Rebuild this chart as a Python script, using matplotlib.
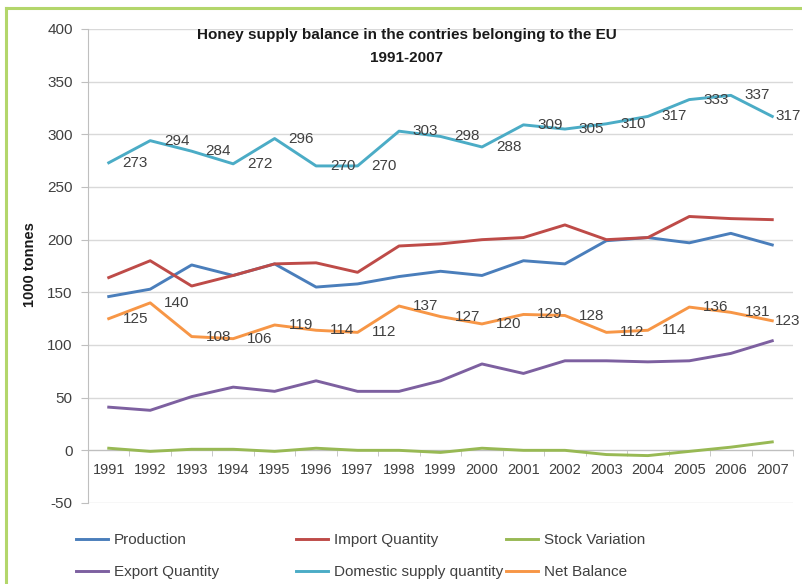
import matplotlib
matplotlib.use("Agg")
import matplotlib.pyplot as plt
from matplotlib.lines import Line2D

years = [str(y) for y in range(1991, 2008)]

production = [146, 153, 176, 166, 177, 155, 158, 165, 170, 166, 180, 177, 199, 202, 197, 206, 195]
import_qty = [164, 180, 156, 166, 177, 178, 169, 194, 196, 200, 202, 214, 200, 202, 222, 220, 219]
stock_var = [2, -1, 1, 1, -1, 2, 0, 0, -2, 2, 0, 0, -4, -5, -1, 3, 8]
export_qty = [41, 38, 51, 60, 56, 66, 56, 56, 66, 82, 73, 85, 85, 84, 85, 92, 104]
domestic = [273, 294, 284, 272, 296, 270, 270, 303, 298, 288, 309, 305, 310, 317, 333, 337, 317]
net_balance = [125, 140, 108, 106, 119, 114, 112, 137, 127, 120, 129, 128, 112, 114, 136, 131, 123]

plt.rcParams['font.family'] = ['Liberation Sans', 'DejaVu Sans']
plt.rcParams['axes.unicode_minus'] = False

fig = plt.figure(figsize=(8.03, 5.84), dpi=100)
ax = fig.add_axes([88/803, 1-503/584, 705/803, 474/584])

x = list(range(len(years)))
series = [
    ("Production", production, "#4a7ebb"),
    ("Import Quantity", import_qty, "#be4b48"),
    ("Stock Variation", stock_var, "#98b954"),
    ("Export Quantity", export_qty, "#7d60a0"),
    ("Domestic supply quantity", domestic, "#4bacc6"),
    ("Net Balance", net_balance, "#f79646"),
]
handles = {}
for name, vals, col in series:
    h, = ax.plot(x, vals, color=col, lw=2.1, solid_joinstyle='round', zorder=3)
    handles[name] = h

# data labels (right of point)
for vals in (domestic, net_balance):
    for xi, v in zip(x, vals):
        off = 10 if xi < len(x) - 1 else 2
        ax.annotate(str(v), (xi, v), xytext=(off, 0), textcoords='offset points',
                    ha='left', va='center', fontsize=11, color='#404040', zorder=4,
                    annotation_clip=False)

ax.set_xlim(-0.5, len(years) - 0.5)
ax.set_ylim(-50, 400)
ax.set_yticks(range(-50, 401, 50))
ax.yaxis.grid(True, color='#d9d9d9', lw=1)
ax.set_axisbelow(True)

for s in ('top', 'right'):
    ax.spines[s].set_visible(False)
ax.spines['left'].set_color('#bfbfbf')
ax.spines['bottom'].set_position(('data', 0))
ax.spines['bottom'].set_color('#bfbfbf')

ax.set_xticks(x)
ax.set_xticklabels(years)
ax.set_xticks([i - 0.5 for i in range(len(years) + 1)], minor=True)
ax.tick_params(axis='x', which='major', length=0, pad=9, labelsize=10.5, labelcolor='#404040')
ax.tick_params(axis='x', which='minor', length=4, color='#bfbfbf')
ax.tick_params(axis='y', length=5, color='#bfbfbf', labelsize=11, labelcolor='#404040', pad=6)

fig.text(407/803, 1-35/584, "Honey supply balance in the contries belonging to the EU",
         ha='center', va='center', fontsize=11, fontweight='bold', color='#1a1a1a')
fig.text(407/803, 1-58/584, "1991-2007", ha='center', va='center', fontsize=11,
         fontweight='bold', color='#1a1a1a')
fig.text(30/803, 1-265/584, "1000 tonnes", rotation=90, ha='center', va='center',
         fontsize=10.5, fontweight='bold', color='#1a1a1a')

# legend: three columns, two rows
cols = [("Production", "Export Quantity", 76),
        ("Import Quantity", "Domestic supply quantity", 296),
        ("Stock Variation", "Net Balance", 506)]
for a, b, px in cols:
    leg = fig.legend([handles[a], handles[b]], [a, b], loc='upper left',
                     bbox_to_anchor=(px/803, 1-533/584), frameon=False, fontsize=11,
                     handlelength=2.1, handletextpad=0.4, labelspacing=1.2,
                     borderpad=0, borderaxespad=0)
    for t in leg.get_texts():
        t.set_color('#404040')

# green frame on top and left
fig.add_artist(Line2D([6/803, 1], [1-8/584, 1-8/584], transform=fig.transFigure,
                      color='#b3d66b', lw=2.2))
fig.add_artist(Line2D([6/803, 6/803], [0, 1-8/584], transform=fig.transFigure,
                      color='#b3d66b', lw=2.2))

fig.savefig("out.png", dpi=100)
